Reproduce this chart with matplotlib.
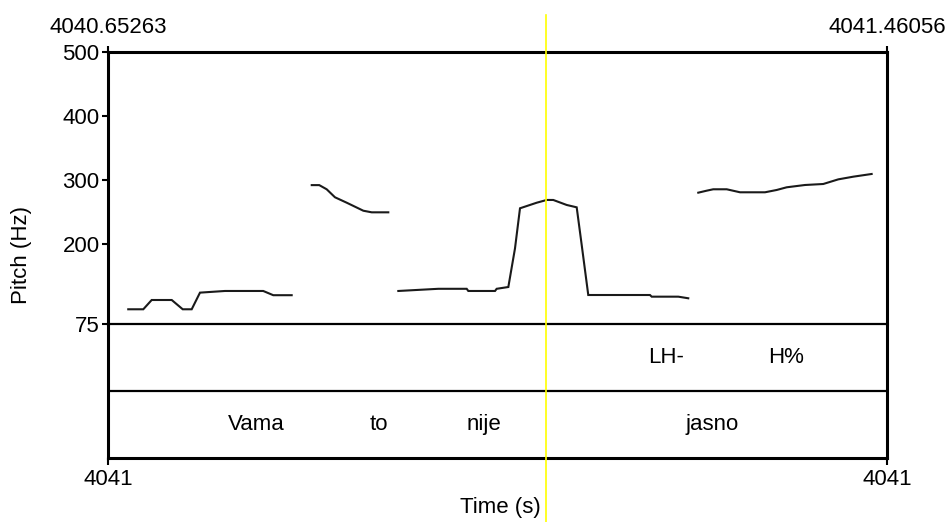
import matplotlib
matplotlib.use("Agg")
import matplotlib.pyplot as plt
from matplotlib.lines import Line2D
from matplotlib.transforms import blended_transform_factory
import numpy as np

plt.rcParams["font.family"] = ["Liberation Sans", "DejaVu Sans"]

# ── Datos ────────────────────────────────────────────────────────────────────

T_START = 4040.65263
T_END = 4041.46056
T_CURSOR = 4041.1069

# tiempos relativos al inicio (s) y F0 (Hz), por tramo sonoro
t_vama = [0.0210, 0.0366, 0.0453, 0.0661, 0.0775, 0.0868, 0.0954, 0.1213,
          0.1610, 0.1714, 0.1905]
f_vama = [98, 98, 112.5, 112.5, 98, 98, 124, 126.6, 126.6, 120, 120]

t_to = [0.2113, 0.2191, 0.2268, 0.2354, 0.2476, 0.2648, 0.2735, 0.2907]
f_to = [292, 292, 285.5, 273, 264.5, 252, 249.5, 249.5]

t_nije = [0.3011, 0.3426, 0.3720, 0.3737, 0.4014, 0.4031, 0.4152, 0.4221,
          0.4273, 0.4446, 0.4550, 0.4618, 0.4757, 0.4861, 0.4913, 0.4981,
          0.5621, 0.5639, 0.5915, 0.6018]
f_nije = [126.6, 130, 130, 126.6, 126.6, 130, 132.8, 193, 255.8, 264.5,
          268.8, 268.8, 261, 257.3, 198.4, 120.3, 120.3, 117.7, 117.7, 115.2]

t_jasno = [0.6122, 0.6209, 0.6277, 0.6417, 0.6555, 0.6814, 0.6935, 0.7039,
           0.7229, 0.7418, 0.7574, 0.7730, 0.7920]
f_jasno = [280.2, 283.3, 285.5, 285.5, 280.8, 280.8, 284.4, 288.6, 292.2,
           293.75, 301, 305.2, 309.4]

pitch_ticks = [75, 200, 300, 400, 500]

tone_labels = ["LH-", "H%"]
tone_times = [0.5787, 0.7032]

word_labels = ["Vama", "to", "nije", "jasno"]
word_times = [0.1535, 0.2811, 0.3903, 0.6264]

# ── Figura ───────────────────────────────────────────────────────────────────

W, H = 953, 522
fig = plt.figure(figsize=(W / 100, H / 100), dpi=100)

x0, x1 = 108, 887
ax_tg = fig.add_axes([x0 / W, (H - 458) / H, (x1 - x0) / W, 134 / H])
ax = fig.add_axes([x0 / W, (H - 324) / H, (x1 - x0) / W, 272 / H])
ax_tg.patch.set_visible(False)
ax.patch.set_visible(False)

FS = 16
LW_FRAME = 2.2

for seg_t, seg_f in [(t_vama, f_vama), (t_to, f_to), (t_nije, f_nije), (t_jasno, f_jasno)]:
    ax.plot(T_START + np.array(seg_t), seg_f, color="#1a1a1a", lw=1.5,
            solid_joinstyle="miter")

ax.set_xlim(T_START, T_END)
ax.set_ylim(75, 500)
ax.set_yticks(pitch_ticks)
ax.set_yticklabels([str(v) for v in pitch_ticks], fontsize=FS)
ax.tick_params(axis="y", direction="out", length=4, width=1.5, pad=2)
ax.xaxis.set_ticks_position("top")
ax.set_xticks([T_START, T_END])
ax.set_xticklabels([f"{T_START:.5f}", f"{T_END:.5f}"], fontsize=FS)
ax.tick_params(axis="x", direction="out", length=4, width=1.5, pad=6)
for s in ["top", "left", "right"]:
    ax.spines[s].set_linewidth(LW_FRAME)
ax.spines["bottom"].set_linewidth(1.6)

# ── TextGrid ──
ax_tg.set_xlim(T_START, T_END)
ax_tg.set_ylim(0, 2)
ax_tg.axhline(1, color="black", lw=1.6)
ax_tg.spines["top"].set_visible(False)
for s in ["bottom", "left", "right"]:
    ax_tg.spines[s].set_linewidth(LW_FRAME)
ax_tg.set_yticks([])
ax_tg.set_xticks([T_START, T_END])
ax_tg.set_xticklabels([f"{T_START:.0f}", f"{T_END:.0f}"], fontsize=FS)
ax_tg.tick_params(axis="x", direction="out", length=5, width=1.5, pad=3)

for lab, t in zip(tone_labels, tone_times):
    ax_tg.text(T_START + t, 1.5, lab, ha="center", va="center", fontsize=FS)
for lab, t in zip(word_labels, word_times):
    ax_tg.text(T_START + t, 0.5, lab, ha="center", va="center", fontsize=FS)

# cursor amarillo
trans = blended_transform_factory(ax.transData, fig.transFigure)
fig.add_artist(Line2D([T_CURSOR, T_CURSOR], [0, (H - 15) / H],
                      transform=trans, color="#ffff00", lw=1.2, zorder=10))

fig.text(22 / W, (H - 255) / H, "Pitch (Hz)", rotation=90, ha="center",
         va="center", fontsize=FS)
fig.text(500 / W, (H - 508) / H, "Time (s)", ha="center", va="center",
         fontsize=FS)

fig.savefig("out.png", dpi=100, facecolor="white")
